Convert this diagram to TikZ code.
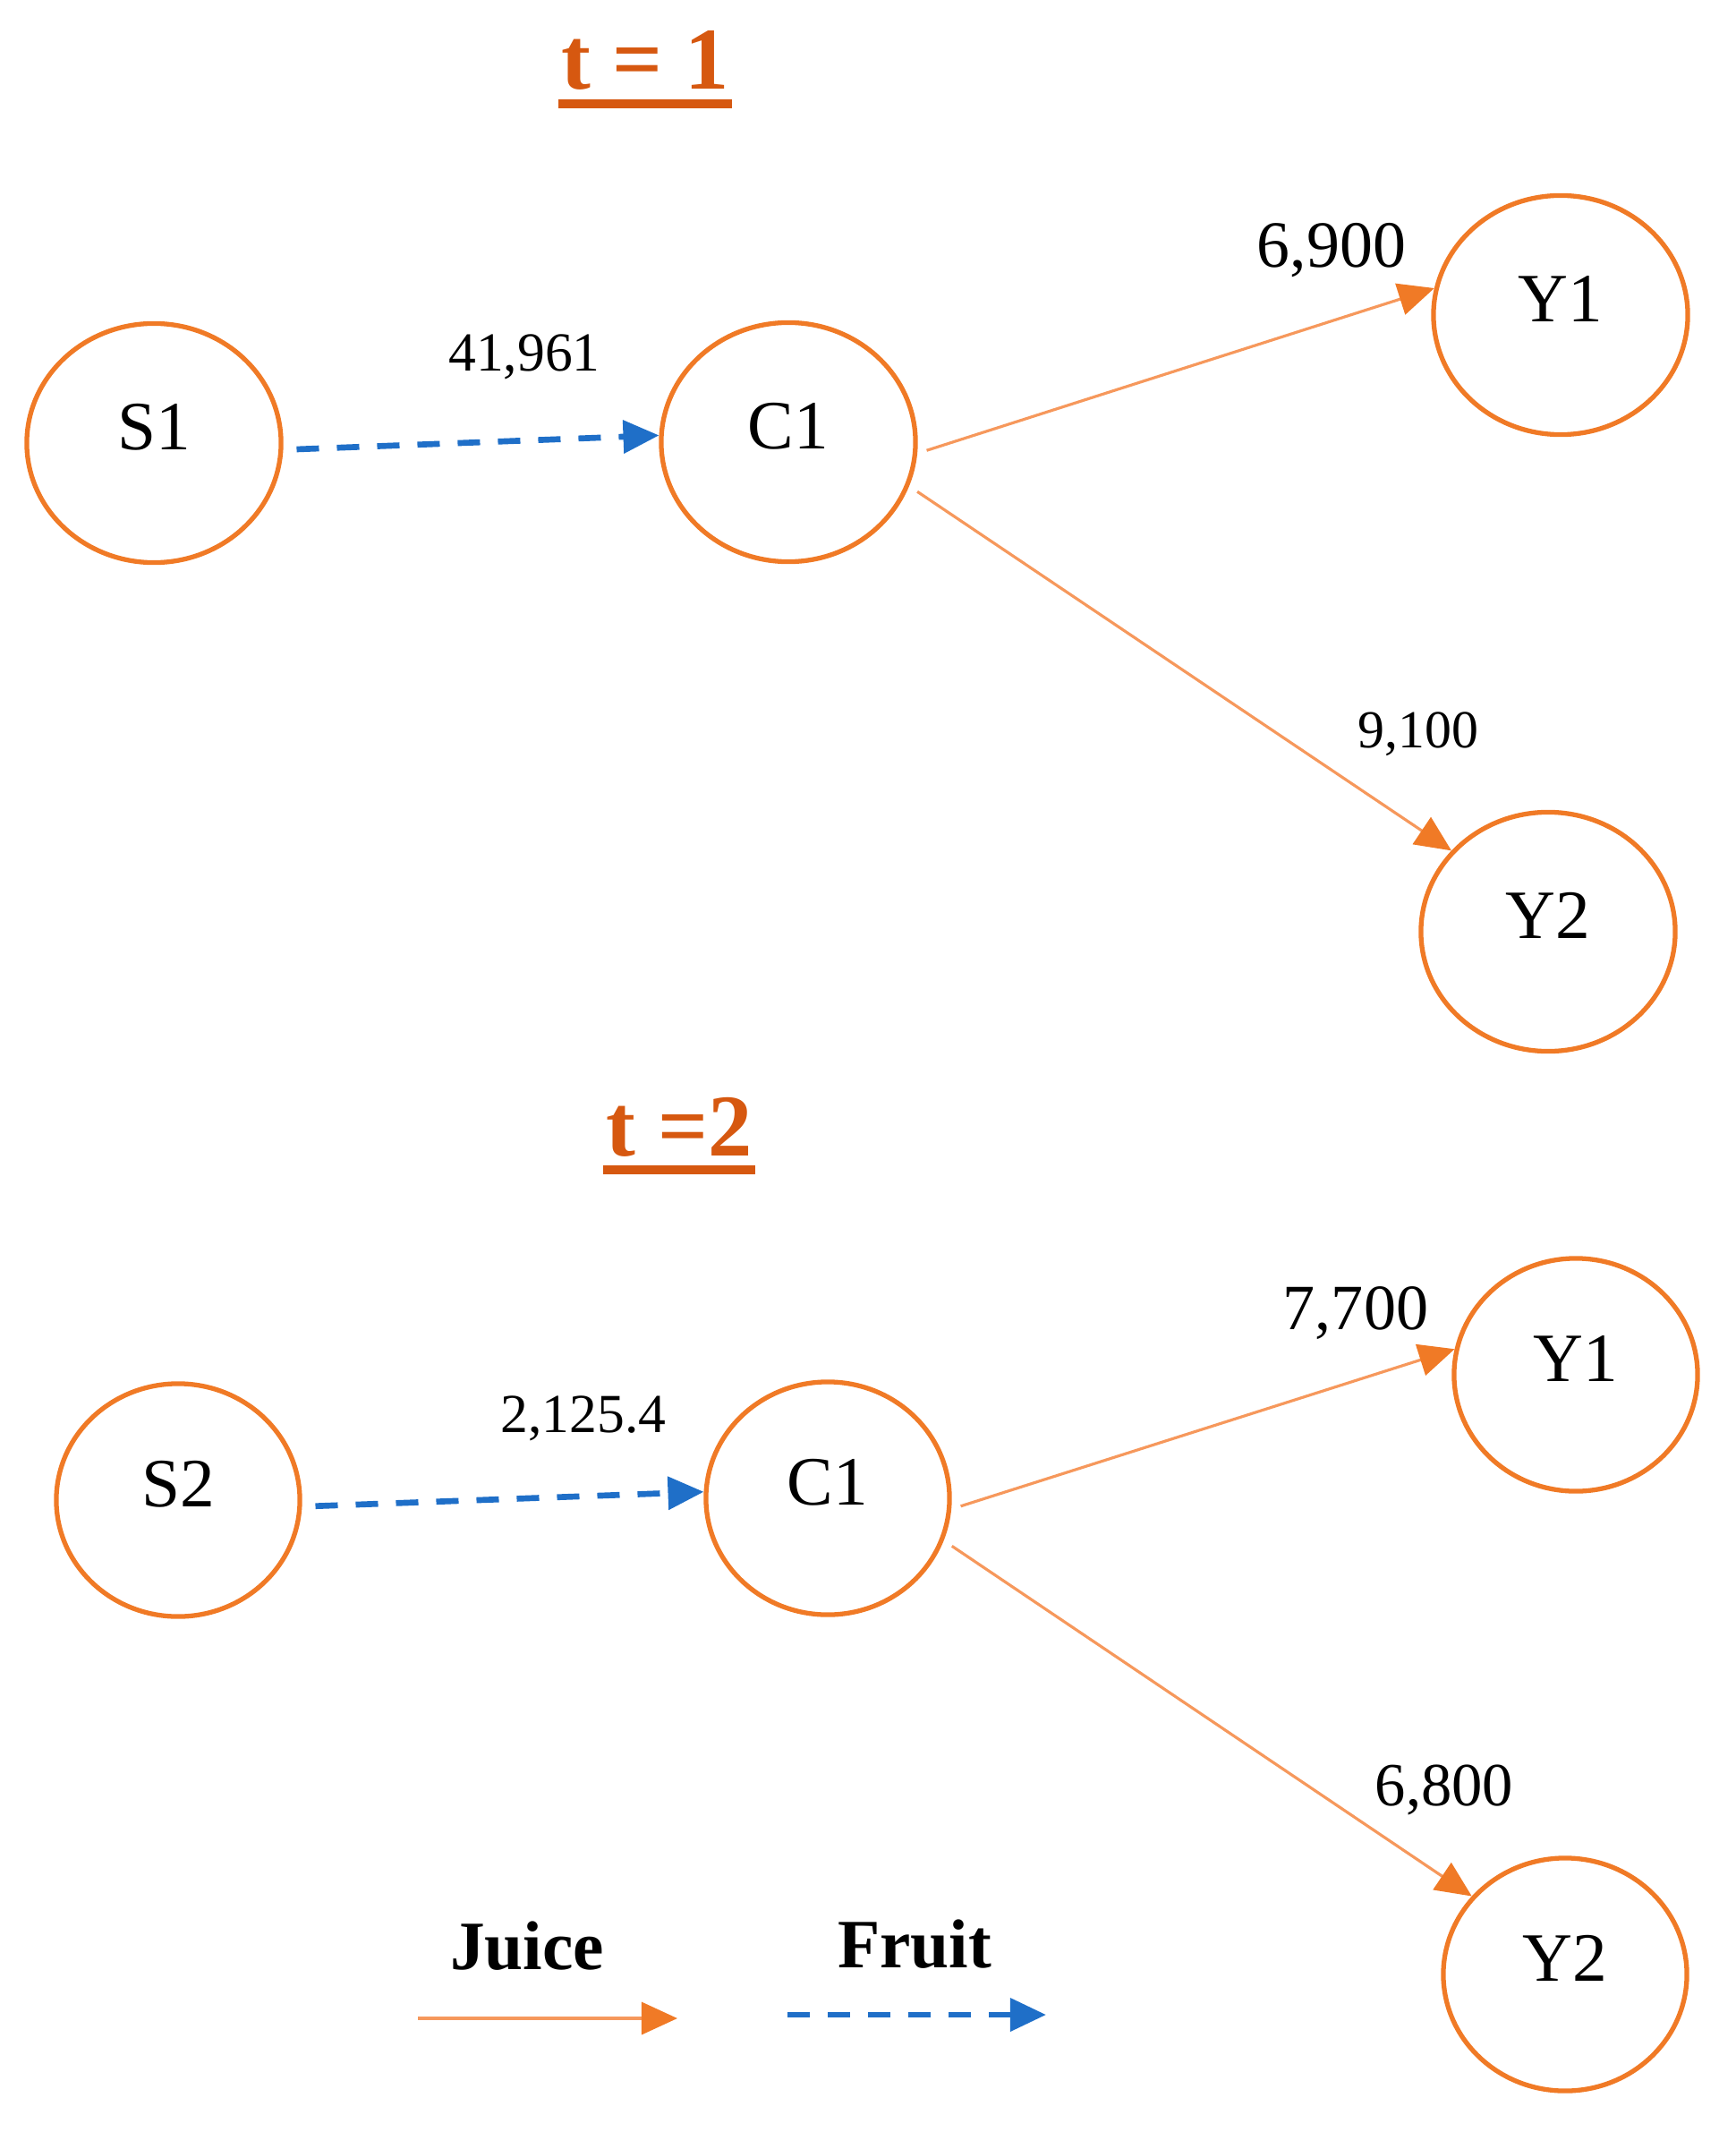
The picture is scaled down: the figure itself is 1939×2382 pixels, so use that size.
\documentclass[tikz,border=0pt]{standalone}
\usepackage{fontspec}
\setmainfont{Liberation Serif}
\usepackage{tikz}
\usetikzlibrary{shapes, arrows.meta}

\definecolor{nodeorange}{RGB}{240,122,38}
\definecolor{juiceorange}{RGB}{246,152,92}
\definecolor{fruitblue}{RGB}{31,111,200}
\definecolor{titleorange}{RGB}{214,88,16}

\begin{document}
\begin{tikzpicture}[
		x=0.01cm, y=-0.01cm,
		place/.style={ellipse, draw=nodeorange, line width=1.5pt, minimum width=2.84cm, minimum height=2.67cm, inner sep=0pt, text depth=0.36cm, font=\fontsize{22}{26}\selectfont},
		placeB/.style={place, minimum width=2.72cm, minimum height=2.6cm},
		juice/.style={draw=juiceorange, line width=0.9pt, -{Triangle[length=0.4cm, width=0.36cm, color=nodeorange]}, shorten <=0.11cm},
		fruit/.style={draw=fruitblue, line width=1.9pt, dash pattern=on 0.25cm off 0.2cm, -{Triangle[length=0.4cm, width=0.36cm]}, shorten <=0.15cm},
		flow/.style={anchor=base, inner sep=0pt},
		heading/.style={anchor=base, inner ysep=0pt, inner xsep=0.03cm, text=titleorange, font=\fontsize{28}{34}\selectfont\bfseries},
		uline/.style={draw=titleorange, line width=3pt},
		key/.style={anchor=base, inner sep=0pt, font=\fontsize{22}{26}\selectfont\bfseries}
	]
	\useasboundingbox (0, 0) rectangle (1939, 2382);
	
	\node[heading] (t1) at (721, 100) {t = 1};
	\draw[uline] ([yshift=-0.16cm]t1.base west) -- ([yshift=-0.16cm]t1.base east);
	
	\node[place] (S1) at (172, 495) {S1};
	\node[place] (C1a) at (881, 494) {C1};
	\node[place] (Y1a) at (1744, 352) {Y1};
	\node[place] (Y2a) at (1730, 1041) {Y2};
	
	\draw[fruit] (S1.-3) -- (C1a.177);
	\draw[juice] (C1a.-5) -- (Y1a.168);
	\draw[juice] (C1a.-20) -- (Y2a.140);
	
	\node[flow, font=\fontsize{17.5}{21}\selectfont] (f1) at (586, 415) {41,961};
	\node[flow, font=\fontsize{21}{25}\selectfont] (j11) at (1488, 299) {6,900};
	\node[flow, font=\fontsize{17}{20}\selectfont] (j12) at (1585, 835) {9,100};
	
	\node[heading] (t2) at (759, 1291) {t =2};
	\draw[uline] ([yshift=-0.16cm]t2.base west) -- ([yshift=-0.16cm]t2.base east);
	
	\node[placeB] (S2) at (199, 1676) {S2};
	\node[placeB] (C1b) at (925, 1674) {C1};
	\node[placeB] (Y1b) at (1761, 1536) {Y1};
	\node[placeB] (Y2b) at (1749, 2206) {Y2};
	
	\draw[fruit] (S2.-3) -- (C1b.177);
	\draw[juice] (C1b.-5) -- (Y1b.168);
	\draw[juice] (C1b.-20) -- (Y2b.140);
	
	\node[flow, font=\fontsize{17.5}{21}\selectfont] (f2) at (652, 1600) {2,125.4};
	\node[flow, font=\fontsize{20.5}{24}\selectfont] (j21) at (1515, 1485) {7,700};
	\node[flow, font=\fontsize{19.5}{23}\selectfont] (j22) at (1614, 2017) {6,800};
	
	\node[key] (kJuice) at (589, 2200) {Juice};
	\node[key] (kFruit) at (1022, 2198) {Fruit};
	\coordinate (jA) at (467, 2255);
	\coordinate (jB) at (757, 2255);
	\coordinate (fA) at (880, 2251);
	\coordinate (fB) at (1169, 2251);
	\draw[juice, shorten <=0pt] (jA) -- (jB);
	\draw[fruit, shorten <=0pt] (fA) -- (fB);
\end{tikzpicture}
\end{document}
